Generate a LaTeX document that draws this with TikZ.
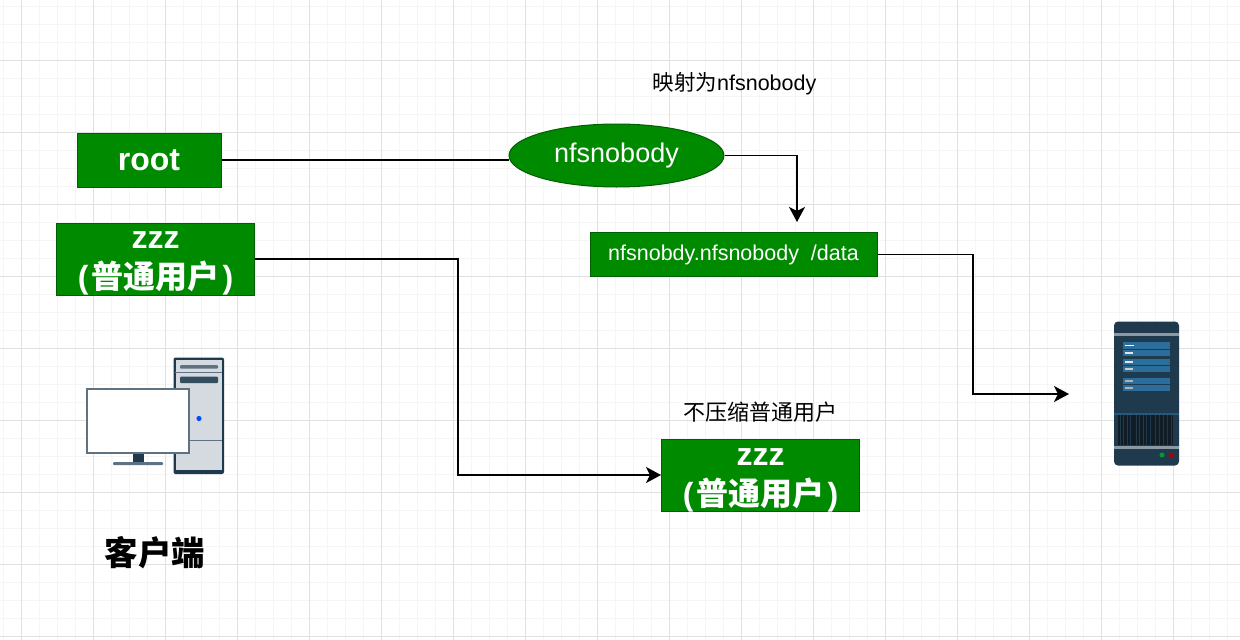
\documentclass[tikz,border=0pt]{standalone}
\usepackage{fontspec}
\setmainfont{Liberation Sans}
\newfontfamily\cjk{Noto Sans CJK SC}
\usetikzlibrary{shapes.geometric,arrows.meta}
\definecolor{gfill}{HTML}{008A00}
\definecolor{gline}{HTML}{005F00}
\definecolor{navy}{HTML}{1F3A4D}
\definecolor{slate}{HTML}{5F7282}
\definecolor{blu}{HTML}{2C6E9B}
\definecolor{tower}{HTML}{D5DAE0}
\definecolor{strip}{HTML}{8A9AA5}
\newcommand{\userlabel}[1]{\raisebox{#1}[0pt][0pt]{\begin{tabular}[c]{@{}c@{}}zzz\\[1pt]\mbox{(\kern3pt{\cjk 普通用户}\kern3pt)}\end{tabular}}}
\tikzset{
  x=1pt,y=-1pt,
  greenbox/.style={rectangle,draw=gline,fill=gfill,line width=1pt,text=white,inner sep=0pt,align=center},
  conn/.style={draw=black,line width=1.5pt,line join=miter},
  arrow/.style={conn,-{Stealth[length=15pt,width=16pt,inset=4pt]}},
  lab/.style={inner sep=0pt,text=black,align=center},
}
\begin{document}
\begin{tikzpicture}
\useasboundingbox (0,0) rectangle (1240,640);
\fill[white] (0,0) rectangle (1240,640);
% grid
\foreach \i in {-1,...,68} {\draw[draw=black!4,line width=1pt] ({21.5+18*\i},0) -- ({21.5+18*\i},640);}
\foreach \i in {0,...,35} {\draw[draw=black!4,line width=1pt] (0,{6+18*\i}) -- (1240,{6+18*\i});}
\foreach \i in {0,...,17} {\draw[draw=black!12,line width=1pt] ({21.5+72*\i},0) -- ({21.5+72*\i},640);}
\foreach \i in {0,...,8} {\draw[draw=black!12,line width=1pt] (0,{60+72*\i}) -- (1240,{60+72*\i});}

% nodes
\node[greenbox,minimum width=144pt,minimum height=54pt,font=\fontsize{32}{36}\selectfont\bfseries] (root) at (149,160) {root};
\node[greenbox,ellipse,minimum width=215pt,minimum height=63pt,font=\fontsize{27}{30}\selectfont] (nfs) at (616.5,155.5) {\raisebox{-1pt}{nfsnobody}};
\node[greenbox,minimum width=287pt,minimum height=44pt,font=\fontsize{21.5}{24}\selectfont] (data) at (733.5,254.5) {\raisebox{-1pt}{nfsnobdy.nfsnobody\ \ /data}};
\node[greenbox,minimum width=198pt,minimum height=72pt,font=\fontsize{32}{37}\selectfont\bfseries] (zzz) at (155.5,259) {\userlabel{-8pt}};
\node[greenbox,minimum width=198pt,minimum height=72pt,font=\fontsize{32}{37}\selectfont\bfseries] (zzz2) at (760.5,475) {\userlabel{-9pt}};
\node[lab,font=\fontsize{21.5}{24}\selectfont] (l1) at (734.5,84) {{\cjk 映射为}nfsnobody};
\node[lab,font=\fontsize{22}{24}\selectfont\cjk] (l2) at (760.5,412) {不压缩普通用户};
\node[lab,font=\fontsize{33.5}{38}\selectfont\cjk\bfseries] (l3) at (155,553) {客户端};

\coordinate (c1) at (797,222);
\coordinate (c2) at (1069,394);

% connectors
\draw[conn] (root.east) -- (nfs.west |- root.east);
\draw[arrow] (nfs.east) -- (797,155.5) -- (c1);
\draw[arrow] (data.east) -- (973,254.5) -- (973,394) -- (c2);
\draw[arrow] (zzz.east) -- (458,259) -- (458,475) -- (zzz2.west);

% client computer
\begin{scope}
\fill[navy,rounded corners=2pt] (173.5,357.5) rectangle (224,474);
\fill[tower] (175.5,359.5) rectangle (222,469.5);
\draw[slate,line width=1pt] (175,372.5) -- (222,372.5);
\draw[slate,line width=1pt] (175,440.5) -- (222,440.5);
\fill[slate,rounded corners=1pt] (180,365) rectangle (218,368.5);
\fill[navy!90!white,rounded corners=1pt] (180,376.5) rectangle (218,383);
\fill[blue!70!cyan] (199,418.5) circle (2.6);
\fill[navy] (133,453) rectangle (144,464);
\fill[slate,rounded corners=1pt] (113,462) rectangle (163,465);
\draw[slate,fill=white,line width=2pt] (86.5,389) rectangle (189,453);
\end{scope}

% server
\begin{scope}
\fill[navy,rounded corners=4pt] (1114,321.5) rectangle (1179,465.5);
\fill[strip] (1114,333) rectangle (1179,335.5);
\fill[strip] (1114,446) rectangle (1179,449);
\foreach \y/\h in {342/7,350/5.5,359/5.5,366/5.5,378/5.5,385/5.5} {
  \fill[blu] (1123,\y) rectangle (1169.5,{\y+\h});
}
\foreach \y/\w/\c in {344.5/9/white,352/8/white!90!black,361/8/white!90!black,368/8/white!80!black,380/8/white!70!black,387/8/white!70!black} {
  \fill[\c] (1125,\y) rectangle ({1125+\w},{\y+1.6});
}
\fill[blu!60!navy] (1114,413) rectangle (1179,414.5);
\fill[black!50!navy] (1118,415) rectangle (1173,445);
\foreach \x in {1120,1123,1127,1130,1136,1139,1143,1146,1150,1155,1159,1163,1167,1171} {
  \draw[navy,line width=0.8pt] (\x,415) -- (\x,445);
}
\fill[green!50!black!80!cyan] (1162,455) circle (2.5);
\fill[red!70!black] (1171,455) circle (2.5);
\end{scope}
\end{tikzpicture}
\end{document}
